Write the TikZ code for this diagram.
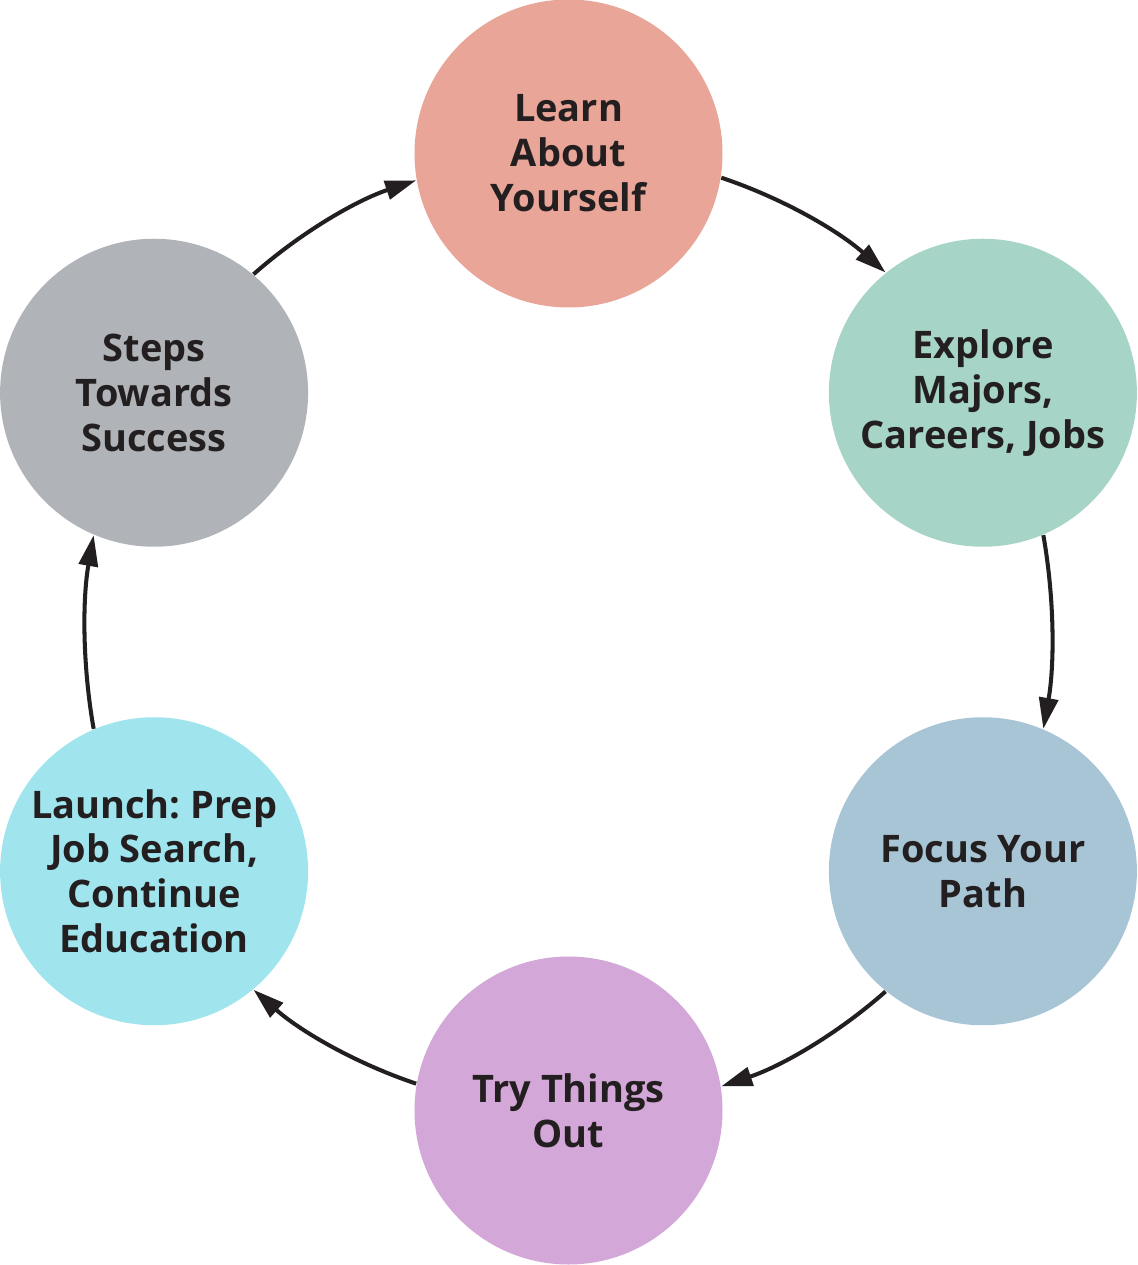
\documentclass[tikz,border=0pt]{standalone}
\usepackage{fontspec}
\setmainfont{Open Sans}
\frenchspacing
\usepackage{xcolor}
\definecolor{LearnRed}{HTML}{E8A598}
\definecolor{ExploreGreen}{HTML}{A6D4C7}
\definecolor{FocusBlue}{HTML}{A8C5D6}
\definecolor{TryViolet}{HTML}{D3A7D7}
\definecolor{LaunchCyan}{HTML}{A0E5EE}
\definecolor{StepsGray}{HTML}{B0B3B8}
\definecolor{InkDark}{HTML}{231F20}
\usepackage{tikz}
\usetikzlibrary{arrows.meta}

\begin{document}
\begin{tikzpicture}[
        stage/.style={circle, minimum size=3.08cm, inner sep=0pt, align=center, text=InkDark, font=\fontsize{10.8}{12.8}\selectfont\bfseries},
        flow/.style={-{Triangle[length=3.1mm, width=1.9mm]}, line width=1.15pt, draw=InkDark, looseness=0.86}
    ]
        \useasboundingbox (-5.685,-6.33) rectangle (5.685,6.32);

        \node[stage, fill=LearnRed] (learn) at (90:4.785) {Learn\\About\\Yourself};
        \node[stage, fill=ExploreGreen] (explore) at (30:4.785) {Explore\\Majors,\\Careers, Jobs};
        \node[stage, fill=FocusBlue] (focus) at (-30:4.785) {Focus Your\\Path};
        \node[stage, fill=TryViolet] (try) at (-90:4.785) {Try Things\\Out};
        \node[stage, fill=LaunchCyan] (launch) at (-150:4.785) {Launch: Prep\\Job Search,\\Continue\\Education};
        \node[stage, fill=StepsGray] (steps) at (150:4.785) {Steps\\Towards\\Success};

        % cycle arrows
        \draw[flow] (learn.-9.3) to[out=-18.5, in=138.5] (explore.129.3);
        \draw[flow] (explore.-67) to[out=-80, in=80] (focus.67);
        \draw[flow] (focus.-129.3) to[out=-138.5, in=18.5] (try.9.3);
        \draw[flow] (try.170.7) to[out=161.5, in=-41.5] (launch.-50.7);
        \draw[flow] (launch.113) to[out=100, in=-100] (steps.-113);
        \draw[flow] (steps.50.7) to[out=41.5, in=-161.5] (learn.-170.7);
    \end{tikzpicture}
\end{document}
